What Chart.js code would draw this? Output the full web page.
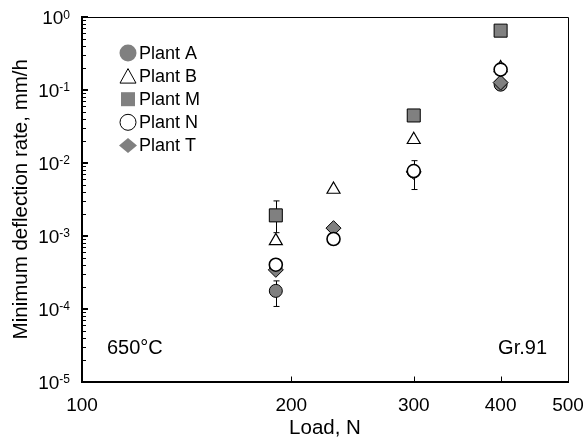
<!DOCTYPE html>
<html>
<head>
<meta charset="utf-8">
<script src="https://cdn.jsdelivr.net/npm/chart.js@4.4.0/dist/chart.umd.min.js"></script>
<style>
  html, body { margin: 0; padding: 0; background: #fff; }
  #wrap { width: 583px; height: 443px; }
</style>
</head>
<body>
<div id="wrap"><canvas id="myChart"></canvas></div>
<script>
// data
const loads = [190, 230, 300, 400];
const plantA = [0.000175, null, 0.0076, 0.118];
const plantB = [0.00085, 0.0043, 0.0207, 0.2];
const plantM = [0.0019, null, 0.0446, 0.65];
const plantN = [0.0004, 0.0009, 0.0077, 0.19];
const plantT = [0.00034, 0.00127, 0.0075, 0.126];

// error bars [low, high]
const errA = [[0.000107, 0.00024], null, null, null];
const errM = [[0.0011, 0.003], null, null, null];
const errN = [null, null, [0.0043, 0.0107], null];

const xTicks = [100, 200, 300, 400, 500];
const xInnerTicks = [200, 300, 400];
const yExps = [-5, -4, -3, -2, -1, 0];

const GREY = '#808080';
const FONT = 'Arial, "Liberation Sans", sans-serif';

function pts(vals) {
  return loads.map((x, i) => ({ x: x, y: vals[i] }));
}

// error bars, drawn under the markers
const errorBars = {
  id: 'errorBars',
  beforeDatasetsDraw(chart) {
    const { ctx, scales: { x, y } } = chart;
    ctx.save();
    ctx.strokeStyle = '#000';
    ctx.lineWidth = 1;
    [errA, errM, errN].forEach(errs => {
      errs.forEach((e, i) => {
        if (!e) return;
        const px = Math.round(x.getPixelForValue(loads[i])) + 0.5;
        const lo = y.getPixelForValue(e[0]);
        const hi = y.getPixelForValue(e[1]);
        ctx.beginPath();
        ctx.moveTo(px, lo); ctx.lineTo(px, hi);
        ctx.moveTo(px - 3, lo); ctx.lineTo(px + 3, lo);
        ctx.moveTo(px - 3, hi); ctx.lineTo(px + 3, hi);
        ctx.stroke();
      });
    });
    ctx.restore();
  }
};

// frame, inward ticks, y labels with superscripts, legend, notes
const decorations = {
  id: 'decorations',
  afterDraw(chart) {
    const { ctx, chartArea: a, scales: { x, y } } = chart;
    ctx.save();

    // top / right frame
    ctx.strokeStyle = '#000';
    ctx.lineWidth = 1;
    ctx.beginPath();
    ctx.moveTo(a.left, a.top + 0.5); ctx.lineTo(a.right + 0.5, a.top + 0.5);
    ctx.lineTo(a.right + 0.5, a.bottom);
    ctx.stroke();

    // y ticks inside
    yExps.forEach(e => {
      const py = Math.round(y.getPixelForValue(Math.pow(10, e)));
      ctx.fillStyle = '#000';
      ctx.fillRect(a.left, py - 1, 6, 2);
      if (e < 0) {
        for (let k = 2; k < 10; k++) {
          const my = Math.round(y.getPixelForValue(k * Math.pow(10, e))) + 0.5;
          ctx.beginPath();
          ctx.moveTo(a.left, my); ctx.lineTo(a.left + 4, my);
          ctx.stroke();
        }
      }
    });

    // x ticks inside
    xInnerTicks.forEach(v => {
      const px = Math.round(x.getPixelForValue(v)) + 0.5;
      ctx.beginPath();
      ctx.moveTo(px, a.bottom); ctx.lineTo(px, a.bottom - 5);
      ctx.stroke();
    });

    // y tick labels 10^n
    ctx.fillStyle = '#000';
    ctx.textBaseline = 'alphabetic';
    ctx.textAlign = 'right';
    yExps.forEach(e => {
      const py = y.getPixelForValue(Math.pow(10, e));
      const sup = e < 0 ? '-' + Math.abs(e) : String(e);
      ctx.font = '12px ' + FONT;
      const w = ctx.measureText(sup).width;
      ctx.fillText(sup, 70, py + 1.5);
      ctx.font = '19px ' + FONT;
      ctx.fillText('10', 70 - w, py + 7);
    });

    // legend
    const items = ['Plant A', 'Plant B', 'Plant M', 'Plant N', 'Plant T'];
    const gx = 128, tx = 139;
    items.forEach((t, i) => {
      const gy = 53 + i * 23.1;
      ctx.beginPath();
      if (i === 0) {
        ctx.arc(gx, gy, 8.5, 0, Math.PI * 2);
        ctx.fillStyle = GREY; ctx.fill();
      } else if (i === 1) {
        ctx.moveTo(gx, gy - 7.5); ctx.lineTo(gx + 8, gy + 7); ctx.lineTo(gx - 8, gy + 7); ctx.closePath();
        ctx.strokeStyle = '#000'; ctx.lineWidth = 1; ctx.stroke();
      } else if (i === 2) {
        ctx.rect(gx - 7, gy - 7, 14, 14);
        ctx.fillStyle = GREY; ctx.fill();
      } else if (i === 3) {
        ctx.arc(gx, gy, 8, 0, Math.PI * 2);
        ctx.strokeStyle = '#000'; ctx.lineWidth = 1; ctx.stroke();
      } else {
        ctx.moveTo(gx, gy - 7.5); ctx.lineTo(gx + 9, gy); ctx.lineTo(gx, gy + 7.5); ctx.lineTo(gx - 9, gy); ctx.closePath();
        ctx.fillStyle = GREY; ctx.fill();
      }
      ctx.fillStyle = '#000';
      ctx.font = '18px ' + FONT;
      ctx.textAlign = 'left';
      ctx.textBaseline = 'middle';
      ctx.fillText(t, tx, gy + 1);
    });

    // notes
    ctx.font = '20px ' + FONT;
    ctx.textBaseline = 'alphabetic';
    ctx.textAlign = 'left';
    ctx.fillText('650\u00B0C', 107, 354);
    ctx.textAlign = 'right';
    ctx.fillText('Gr.91', 547, 354);

    ctx.restore();
  }
};

const ctx = document.getElementById('myChart');

new Chart(ctx, {
  type: 'scatter',
  data: {
    datasets: [
      { label: 'Plant A', data: pts(plantA), pointStyle: 'circle', pointRadius: 6.5,
        backgroundColor: GREY, borderColor: '#000', borderWidth: 1, order: 4 },
      { label: 'Plant B', data: pts(plantB), pointStyle: 'triangle', pointRadius: 7.5,
        backgroundColor: '#fff', borderColor: '#000', borderWidth: 1.2, order: 3 },
      { label: 'Plant M', data: pts(plantM), pointStyle: 'rect', pointRadius: 9.2,
        backgroundColor: GREY, borderColor: '#000', borderWidth: 1, order: 2 },
      { label: 'Plant N', data: pts(plantN), pointStyle: 'circle', pointRadius: 6.5,
        backgroundColor: '#fff', borderColor: '#000', borderWidth: 1.6, order: 0 },
      { label: 'Plant T', data: pts(plantT), pointStyle: 'rectRot', pointRadius: 7.5,
        backgroundColor: GREY, borderColor: '#000', borderWidth: 1, order: 1 }
    ]
  },
  options: {
    responsive: true,
    maintainAspectRatio: false,
    animation: false,
    events: [],
    layout: { padding: { top: 17, right: 15, left: 0, bottom: 0 } },
    plugins: {
      legend: { display: false },
      tooltip: { enabled: false }
    },
    scales: {
      x: {
        type: 'logarithmic',
        min: 100,
        max: 500,
        afterBuildTicks: s => { s.ticks = xTicks.map(v => ({ value: v })); },
        afterFit: s => { s.height = 61.5; s.paddingLeft = 0; s.paddingRight = 0; },
        grid: { display: false, drawTicks: false },
        border: { display: true, color: '#000', width: 2 },
        ticks: {
          autoSkip: false,
          maxRotation: 0,
          padding: 13,
          color: '#000',
          font: { family: FONT, size: 19 },
          callback: v => String(v)
        },
        title: {
          display: true,
          text: 'Load, N',
          color: '#000',
          font: { family: FONT, size: 20.5 },
          padding: { top: 0, bottom: 2 }
        }
      },
      y: {
        type: 'logarithmic',
        min: 0.00001,
        max: 1,
        afterFit: s => { s.width = 82; s.paddingTop = 0; s.paddingBottom = 0; },
        grid: { display: false, drawTicks: false },
        border: { display: true, color: '#000', width: 2 },
        ticks: { display: false },
        title: {
          display: true,
          text: 'Minimum deflection rate, mm/h',
          color: '#000',
          font: { family: FONT, size: 20.5 },
          padding: { top: 9, bottom: 0 }
        }
      }
    }
  },
  plugins: [errorBars, decorations]
});
</script>
</body>
</html>
